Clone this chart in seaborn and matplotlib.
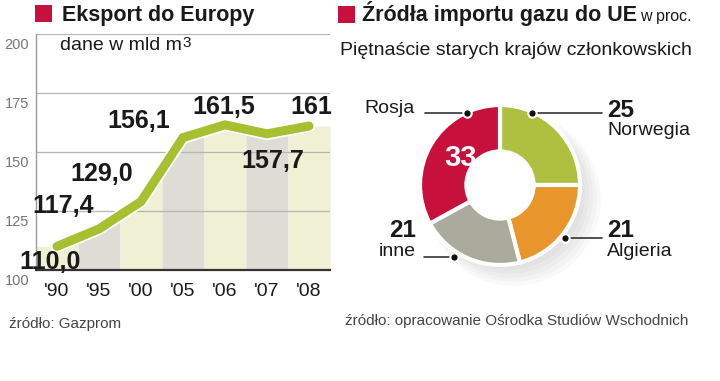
import numpy as np
import matplotlib
matplotlib.use("Agg")
import matplotlib.pyplot as plt
import matplotlib.patheffects as pe
from matplotlib.patches import Rectangle, Circle
from matplotlib.transforms import ScaledTranslation
import seaborn as sns

# data - export to Europe (bln m3)
years = ["'90", "'95", "'00", "'05", "'06", "'07", "'08"]
export = [110.0, 117.4, 129.0, 156.1, 161.5, 157.7, 161.0]
export_labels = ["110,0", "117,4", "129,0", "156,1", "161,5", "157,7", "161"]
y_ticks = [100, 125, 150, 175, 200]

# data - gas import sources (%)
sources = ["Norwegia", "Algieria", "inne", "Rosja"]
shares = [25, 21, 21, 33]
source_colors = ["#afc041", "#e8962b", "#abab9d", "#c8103c"]

RED = "#c8103c"
LINE_GREEN = "#a6c032"
STRIPES = ["#eff0d4", "#dddcd5"]

sns.set_theme(style="white")
plt.rcParams["font.family"] = ["Liberation Sans", "DejaVu Sans"]

W, H = 720, 381
fig = plt.figure(figsize=(W / 100, H / 100), dpi=100)


def box(x0, y0, x1, y1):
    # pixel box (top-left origin) -> figure fraction
    return [x0 / W, 1 - y1 / H, (x1 - x0) / W, (y1 - y0) / H]


# ---------------- left: line chart ----------------
ax = fig.add_axes(box(36, 34, 330, 270))
pos = np.arange(len(years))

# striped area under the line
for i in pos:
    xs = np.linspace(i - 0.5, i + 0.5, 30)
    ys = np.interp(xs, pos, export)
    ax.fill_between(xs, 100, ys, color=STRIPES[i % 2], lw=0, zorder=1)

for t in y_ticks[1:]:
    ax.axhline(t, color="#b5b5b5", lw=0.9, zorder=2)

sns.lineplot(x=pos, y=export, ax=ax, color=LINE_GREEN, lw=6.5,
             solid_capstyle="round", solid_joinstyle="miter", zorder=4,
             path_effects=[pe.Stroke(linewidth=9, foreground="white"), pe.Normal()])

# label positions (data coords) picked to match the original layout
label_pos = [(-0.17, 103.4), (0.14, 127), (1.07, 140.7), (1.95, 163),
             (3.98, 169), (5.14, 146), (6.05, 169)]
for (x, y), lab in zip(label_pos, export_labels):
    ax.text(x, y, lab, ha="center", va="center", fontsize=18, fontweight="bold",
            color="#1a1a1a", zorder=6)

ax.set_xlim(-0.5, 6.5)
ax.set_ylim(100, 200)
ax.set_xticks(pos)
ax.set_xticklabels(years, fontsize=14, color="#1a1a1a")
ax.set_xticks(np.arange(0.5, 7, 1), minor=True)
ax.tick_params(axis="x", which="major", length=0, pad=9)
ax.tick_params(axis="x", which="minor", length=19, width=1, color="#333333", direction="out")
ax.set_yticks(y_ticks)
ax.set_yticklabels([str(t) for t in y_ticks], fontsize=10.5, color="#777777")
ax.tick_params(axis="y", length=0, pad=5)
for lab in ax.get_yticklabels():
    lab.set_va("top")
    lab.set_transform(lab.get_transform() + ScaledTranslation(0, -3 / 72, fig.dpi_scale_trans))
for s in ["top", "right"]:
    ax.spines[s].set_visible(False)
ax.spines["left"].set_color("#9a9a9a")
ax.spines["left"].set_linewidth(1)
ax.spines["bottom"].set_color("#333333")
ax.spines["bottom"].set_linewidth(1.6)
ax.spines["bottom"].set_zorder(5)
ax.set_xlabel("")
ax.set_ylabel("")

# ---------------- right: donut ----------------
pax = fig.add_axes(box(420, 105, 580, 265))
# soft drop shadow
for k in range(5):
    pax.add_patch(Circle((0.10 + 0.02 * k, -0.10 - 0.02 * k), 0.96 + 0.03 * k,
                         color="#8a8a8a", alpha=0.05, lw=0, zorder=0, clip_on=False))
pax.add_patch(Circle((0, 0), 0.43, color="white", lw=0, zorder=0.5))
pax.pie(shares, colors=source_colors, startangle=90, counterclock=False, radius=1,
        wedgeprops=dict(width=0.58, edgecolor="white", linewidth=3))
pax.set_xlim(-1, 1)
pax.set_ylim(-1, 1)
pax.set_aspect("equal")
pax.axis("off")

# ---------------- overlay: titles, labels ----------------
ov = fig.add_axes([0, 0, 1, 1])
ov.set_xlim(0, W)
ov.set_ylim(H, 0)
ov.axis("off")

ov.add_patch(Rectangle((35, 5), 17, 17, color=RED, lw=0))
ov.text(62, 20.5, "Eksport do Europy", fontsize=15.5, fontweight="bold", color="#1a1a1a", va="baseline")
unit = ov.text(60, 50, "dane w mld m", fontsize=14, color="#1a1a1a", va="baseline")
ov.annotate("3", xy=(1.0, 1.0), xycoords=unit, xytext=(0.5, 1), textcoords="offset points",
            fontsize=11, color="#1a1a1a", ha="left", va="top")
ov.text(9, 328, "źródło: Gazprom", fontsize=11, color="#444444", va="baseline")

ov.add_patch(Rectangle((338, 6), 17, 17, color=RED, lw=0))
ov.text(362, 21, "Źródła importu gazu do UE", fontsize=15.5, fontweight="bold", color="#1a1a1a", va="baseline")
ov.text(640, 21, "w proc.", fontsize=11.5, color="#1a1a1a", va="baseline")
ov.text(340, 55, "Piętnaście starych krajów członkowskich", fontsize=14, color="#1a1a1a", va="baseline")
ov.text(345, 325, "źródło: opracowanie Ośrodka Studiów Wschodnich", fontsize=11, color="#444444", va="baseline")

# leader lines + dots
leaders = [((425, 113), (467, 113)), ((532, 113), (602, 113)),
           ((565, 238), (602, 238)), ((424, 257), (454, 257))]
dots = [(467, 113), (532, 113), (565, 238), (454, 257)]
for (a, b) in leaders:
    ov.plot([a[0], b[0]], [a[1], b[1]], color="#333333", lw=1.2)
for (x, y) in dots:
    ov.plot([x], [y], "o", ms=6, mfc="#111111", mec="white", mew=1.5)

ov.text(415, 113, "Rosja", fontsize=14, color="#1a1a1a", ha="right", va="baseline")
ov.text(461, 158, str(shares[3]), fontsize=21, fontweight="bold", color="white", ha="center", va="center")
ov.text(607, 117, str(shares[0]), fontsize=17.5, fontweight="bold", color="#1a1a1a", va="baseline")
ov.text(607, 135, sources[0], fontsize=14, color="#1a1a1a", va="baseline")
ov.text(607, 237, str(shares[1]), fontsize=17.5, fontweight="bold", color="#1a1a1a", va="baseline")
ov.text(607, 256, sources[1], fontsize=14, color="#1a1a1a", va="baseline")
ov.text(416, 237, str(shares[2]), fontsize=17.5, fontweight="bold", color="#1a1a1a", ha="right", va="baseline")
ov.text(416, 256, sources[2], fontsize=14, color="#1a1a1a", ha="right", va="baseline")

fig.savefig("out.png", dpi=100)
